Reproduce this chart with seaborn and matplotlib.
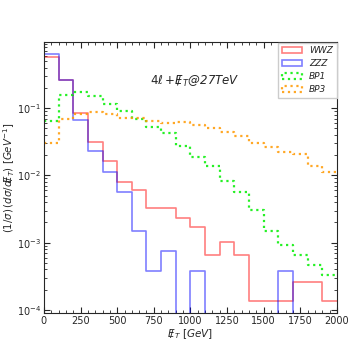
import numpy as np
import pandas as pd
import matplotlib
matplotlib.use("Agg")
import matplotlib.pyplot as plt
import seaborn as sns
from matplotlib.patches import Patch
from matplotlib.ticker import MultipleLocator, LogLocator, NullFormatter

# Bin edges (GeV)
bin_edges = list(range(0, 2100, 100))

# Normalised distributions per 100 GeV bin
wwz = [0.573, 0.261, 0.086, 0.0319, 0.0165, 0.0081, 0.00605, 0.00322, 0.00322, 0.00229,
       0.00168, 0.00066, 0.00102, 0.00066, 0.000134, 0.000134, 0.000134, 0.00026, 0.00026, 0.000134]
zzz = [0.634, 0.258, 0.067, 0.0232, 0.0114, 0.00557, 0.00147, 0.000373, 0.00075, 0.0,
       0.000373, 0.0, 0.0, 0.0, 0.0, 0.0, 0.000373, 0.0, 0.0, 0.0]
bp1 = [0.0654, 0.158, 0.172, 0.150, 0.116, 0.0912, 0.0682, 0.0533, 0.0420, 0.0278,
       0.0187, 0.0140, 0.00823, 0.00566, 0.00301, 0.00150, 0.000924, 0.00065, 0.00047, 0.000326]
bp3 = [0.0302, 0.0687, 0.0822, 0.0872, 0.0814, 0.0710, 0.0705, 0.0654, 0.0598, 0.0632,
       0.0571, 0.0504, 0.0445, 0.0384, 0.0308, 0.0269, 0.0220, 0.0209, 0.0139, 0.0113]

labels = ["WWZ", "ZZZ", "BP1", "BP3"]
colors = ["#ff0000", "#0000ff", "#00ee00", "#ff9900"]
alphas = [0.5, 0.5, 0.85, 0.85]
styles = ["-", "-", ":", ":"]
widths = [1.2, 1.2, 1.6, 1.6]

sns.set_style("ticks")
plt.rcParams["font.family"] = ["DejaVu Sans"]
plt.rcParams["mathtext.fontset"] = "dejavusans"

fig = plt.figure(figsize=(3.54, 3.54), dpi=100)
ax = fig.add_axes([0.124, 0.116, 0.828, 0.765])

centers = [(bin_edges[i] + bin_edges[i + 1]) / 2 for i in range(len(bin_edges) - 1)]
series = [wwz, zzz, bp1, bp3]
for lab, vals, c, a, ls, lw in zip(labels, series, colors, alphas, styles, widths):
    df = pd.DataFrame({"met": centers, "w": vals})
    sns.histplot(data=df, x="met", weights="w", bins=bin_edges, element="step",
                 fill=False, color=c, alpha=a, linestyle=ls, linewidth=lw, ax=ax)

ax.set_yscale("log", nonpositive="clip")
ax.set_xlim(0, 2000)
ax.set_ylim(9e-5, 0.96)

ax.xaxis.set_major_locator(MultipleLocator(250))
ax.xaxis.set_minor_locator(MultipleLocator(50))
ax.yaxis.set_major_locator(LogLocator(base=10, numticks=10))
ax.yaxis.set_minor_locator(LogLocator(base=10, subs=np.arange(2, 10), numticks=10))
ax.yaxis.set_minor_formatter(NullFormatter())
ax.tick_params(which="both", direction="in", top=True, right=True, labelsize=7)
ax.tick_params(which="major", length=4, width=0.8, pad=2)
ax.tick_params(which="minor", length=2.5, width=0.6)

emiss = r"/\!\!\!E"
ax.set_xlabel(r"$" + emiss + r"_T\ [GeV]$", fontsize=7.5, labelpad=1)
ax.set_ylabel(r"$(1/\sigma)\,(d\sigma/d" + emiss + r"_T)\ [GeV^{-1}]$", fontsize=7.3, labelpad=0)

ax.text(0.515, 0.855, r"$\mathit{4}\ell + " + emiss + r"_T$@27TeV", transform=ax.transAxes,
        ha="center", va="center", fontsize=8.5, style="italic")

handles = [Patch(facecolor="none", edgecolor=c, alpha=a, linestyle=ls, linewidth=lw, label=l)
           for l, c, a, ls, lw in zip(labels, colors, alphas, styles, widths)]
leg = ax.legend(handles=handles, loc="upper right", prop={"style": "italic", "size": 6.5},
                borderaxespad=0.05, fancybox=False, framealpha=1, edgecolor="#cccccc",
                handlelength=2.2, handletextpad=0.8, labelspacing=0.45)

for s in ax.spines.values():
    s.set_linewidth(0.8)

fig.savefig("out.png", dpi=100)
